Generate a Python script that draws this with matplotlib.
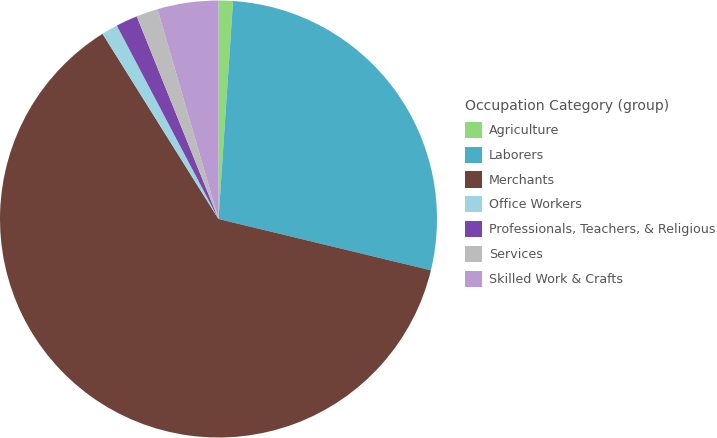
import matplotlib
matplotlib.use("Agg")
import matplotlib.pyplot as plt

# valeurs (parts en %)
categories = ["Agriculture", "Laborers", "Merchants", "Office Workers",
              "Professionals, Teachers, & Religious", "Services", "Skilled Work & Crafts"]
shares = [1.06, 27.7, 62.3, 1.2, 1.6, 1.6, 4.5]
colors = ["#8fd97a", "#4aaec6", "#6e4239", "#9dd4e2", "#7945ab", "#bcbcbc", "#b99bd2"]

W, H = 717, 438
fig = plt.figure(figsize=(W / 100, H / 100), dpi=100)
ax = fig.add_axes([0, 0, 437 / W, 1])

wedges, _ = ax.pie(shares, colors=colors, startangle=90, counterclock=False,
                   wedgeprops=dict(linewidth=0))
ax.set_xlim(-1.0, 1.0)
ax.set_ylim(-1.0, 1.0)
ax.set_aspect("equal")

leg = fig.legend(wedges, categories, loc="upper left",
                 bbox_to_anchor=(455 / W, 1 - 89 / H),
                 title="Occupation Category (group)", frameon=False,
                 fontsize=9.1, title_fontsize=10.1,
                 handlelength=1.35, handleheight=1.6, handletextpad=0.55,
                 labelspacing=0.68, labelcolor="#555555", borderpad=0.3)
leg._legend_box.align = "left"
leg.get_title().set_color("#555555")

fig.savefig("out.png", dpi=100)
